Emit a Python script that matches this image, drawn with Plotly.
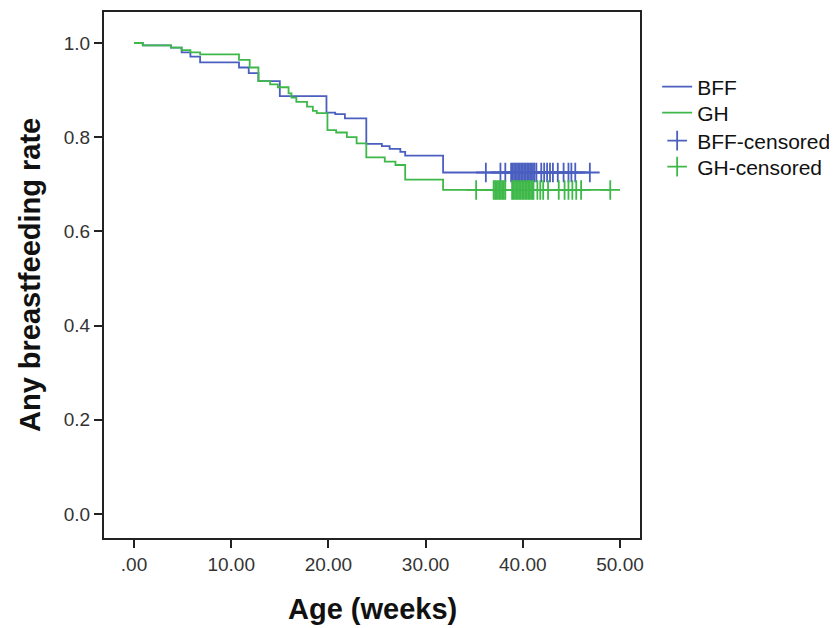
import plotly.graph_objects as go

# Kaplan-Meier step curves (time in weeks, survival after each step)
bff_time = [0, 0.9, 3.8, 4.9, 5.8, 6.8, 10.8, 11.8, 12.8, 15.0, 19.8, 20.7, 21.7,
            23.9, 25.5, 26.3, 27.4, 27.9, 31.8, 46.9]
bff_surv = [1.0, 0.995, 0.99, 0.98, 0.971, 0.959, 0.948, 0.936, 0.919, 0.887, 0.852, 0.849, 0.840,
            0.786, 0.781, 0.775, 0.769, 0.761, 0.725, 0.725]

gh_time = [0, 0.9, 3.8, 4.9, 5.8, 6.8, 10.8, 11.9, 12.8, 14.0, 14.8, 15.9, 16.2, 16.7,
           17.8, 18.4, 18.8, 19.9, 20.8, 21.9, 22.9, 23.9, 25.8, 26.9, 27.9, 31.8, 49.0]
gh_surv = [1.0, 0.995, 0.99, 0.985, 0.98, 0.976, 0.964, 0.948, 0.919, 0.912, 0.906, 0.893, 0.884, 0.875,
           0.865, 0.856, 0.851, 0.815, 0.81, 0.80, 0.787, 0.757, 0.748, 0.741, 0.71, 0.688, 0.688]

# censored observations
bff_cens_time = [36.2, 37.7, 38.2, 38.8, 38.95, 39.1, 39.25, 39.4, 39.55, 39.7, 39.85, 40.0,
                 40.15, 40.3, 40.45, 40.6, 40.75, 40.9, 41.05, 41.2, 41.4, 41.9, 42.2, 42.5,
                 42.8, 43.1, 43.6, 44.2, 44.7, 45.0, 45.4, 46.9]
bff_cens_surv = [0.725] * len(bff_cens_time)

gh_cens_time = [35.2, 37.0, 37.15, 37.3, 37.45, 37.6, 37.75, 37.9, 38.05, 38.2, 38.9, 39.05,
                39.2, 39.35, 39.5, 39.65, 39.8, 39.95, 40.1, 40.25, 40.4, 40.55, 40.7, 40.85,
                41.0, 41.1, 41.5, 41.8, 42.1, 42.6, 43.7, 44.3, 44.7, 45.1, 45.5, 46.0, 49.0]
gh_cens_surv = [0.688] * len(gh_cens_time)

x_ticks = [0, 10, 20, 30, 40, 50]
x_tick_labels = [".00", "10.00", "20.00", "30.00", "40.00", "50.00"]
y_ticks = [0.0, 0.2, 0.4, 0.6, 0.8, 1.0]
y_tick_labels = ["0.0", "0.2", "0.4", "0.6", "0.8", "1.0"]

BLUE = "#4a5fbf"
GREEN = "#3fb84a"
FONT = "Liberation Sans, Arial, sans-serif"

fig = go.Figure()
fig.add_trace(go.Scatter(x=bff_time, y=bff_surv, mode="lines", name="BFF", legend="legend",
                         line=dict(color=BLUE, width=1.8, shape="hv")))
fig.add_trace(go.Scatter(x=gh_time, y=gh_surv, mode="lines", name="GH", legend="legend2",
                         line=dict(color=GREEN, width=1.8, shape="hv")))
fig.add_trace(go.Scatter(x=bff_cens_time, y=bff_cens_surv, mode="markers", name="BFF-censored",
                         legend="legend3",
                         marker=dict(symbol="cross-thin", size=14, color=BLUE,
                                     line=dict(color=BLUE, width=1.8))))
fig.add_trace(go.Scatter(x=gh_cens_time, y=gh_cens_surv, mode="markers", name="GH-censored",
                         legend="legend4",
                         marker=dict(symbol="cross-thin", size=14, color=GREEN,
                                     line=dict(color=GREEN, width=1.8))))


def legend_box(ypos):
    return dict(x=1.032, y=ypos, xanchor="left", yanchor="top",
                font=dict(family=FONT, size=21, color="#111111"),
                bgcolor="rgba(0,0,0,0)", tracegroupgap=0)


# page body has an 8px margin, so the figure is laid out 8px smaller
fig.update_layout(
    width=829, height=620,
    margin=dict(l=96, r=197, t=4, b=90, autoexpand=False),
    paper_bgcolor="white", plot_bgcolor="white",
    font=dict(family=FONT, size=16, color="#333333"),
    showlegend=True,
    legend=legend_box(0.8964),
    legend2=legend_box(0.8470),
    legend3=legend_box(0.7937),
    legend4=legend_box(0.7443),
    annotations=[
        dict(text="<b>Age (weeks)</b>", xref="paper", yref="paper", x=0.5, y=-0.135,
             xanchor="center", yanchor="middle", showarrow=False,
             font=dict(family=FONT, size=29, color="#111111")),
        dict(text="<b>Any breastfeeding rate</b>", xref="paper", yref="paper", x=-0.138, y=0.5,
             xanchor="center", yanchor="middle", textangle=-90, showarrow=False,
             font=dict(family=FONT, size=29, color="#111111")),
    ],
)
fig.update_xaxes(
    range=[-3.09, 52.06], tickvals=x_ticks, ticktext=x_tick_labels, automargin=False,
    showline=True, linecolor="#222222", linewidth=2, mirror=True,
    ticks="outside", ticklen=8, tickwidth=2, tickcolor="#222222",
    showgrid=False, zeroline=False,
    tickfont=dict(family=FONT, size=19, color="#333333"),
)
fig.update_yaxes(
    range=[-0.051, 1.0658], tickvals=y_ticks, ticktext=y_tick_labels, automargin=False,
    showline=True, linecolor="#222222", linewidth=2, mirror=True,
    ticks="outside", ticklen=8, tickwidth=2, tickcolor="#222222",
    showgrid=False, zeroline=False,
    tickfont=dict(family=FONT, size=19, color="#333333"),
)

fig.write_html("out.html")
